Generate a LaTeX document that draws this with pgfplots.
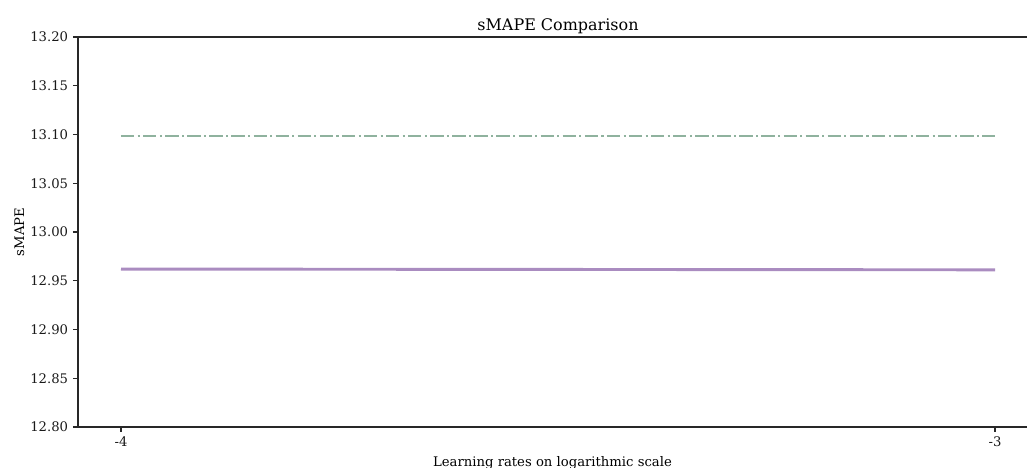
\documentclass[border=0pt]{standalone}
\usepackage{pgfplots}
\pgfplotsset{compat=1.18}
\usepackage{fontspec}
\setmainfont{DejaVu Serif}
\definecolor{cgreen}{RGB}{143,178,158}
\definecolor{cpurple}{RGB}{170,140,192}
\definecolor{spine}{RGB}{40,40,40}
\begin{document}
\begin{tikzpicture}
\begin{axis}[
  scale only axis,
  width=683.28pt, height=280.8pt,
  xmin=-4.0492, xmax=-2.9634,
  ymin=12.8, ymax=13.2,
  axis x line*=bottom, axis y line*=left,
  axis line style={spine, line width=0.8pt, -},
  xtick={-4,-3}, xticklabels={-4,-3},
  ytick={12.80,12.85,12.90,12.95,13.00,13.05,13.10,13.15,13.20},
  yticklabel style={/pgf/number format/fixed, /pgf/number format/precision=2, /pgf/number format/fixed zerofill},
  /pgf/number format/assume math mode=true,
  tick align=outside, major tick length=3.6pt,
  tick style={spine, line width=0.8pt},
  ticklabel style={font=\fontsize{9.5}{11}\selectfont, text=black!90},
  xlabel={Learning rates on logarithmic scale},
  ylabel={sMAPE},
  label style={font=\fontsize{9.5}{11}\selectfont},
  ylabel style={yshift=-2.5pt},
  title={sMAPE Comparison},
  title style={font=\fontsize{11.5}{13}\selectfont, at={(axis cs:-3.5,13.2)}, anchor=base, yshift=-1pt},
  clip=false,
]
\draw[spine, line width=0.8pt] (rel axis cs:0,1) -- (rel axis cs:1,1);
\addplot[cgreen, line width=1.5pt, dash pattern=on 9.6pt off 2.4pt on 1.5pt off 2.4pt] coordinates {(-4,13.0985) (-3,13.0985)};
\addplot[cpurple, line width=2.1pt] coordinates {(-4,12.9620) (-3,12.9612)};
\end{axis}
\pgfresetboundingbox
\useasboundingbox (-56.16pt,-29.52pt) rectangle (683.28pt,307.44pt);
\end{tikzpicture}
\end{document}
